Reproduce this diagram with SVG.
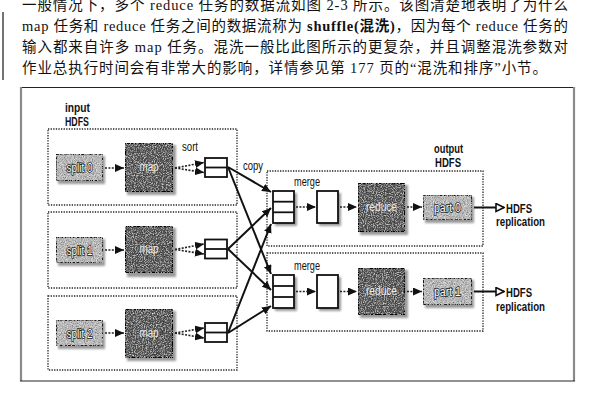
<svg xmlns="http://www.w3.org/2000/svg" width="600" height="400" viewBox="0 0 600 400">
<defs>
<style>
.para{font-family:"Liberation Serif","Noto Sans CJK SC",serif;font-size:14.5px;fill:#111}
.lbl{font-family:"Liberation Sans",sans-serif;font-size:13px;fill:#111}
.b{font-weight:bold}
.dotbox{fill:none;stroke:#222;stroke-width:1.3;stroke-dasharray:1.3 1.3}
.dark{fill:#545454;stroke:#111;stroke-width:2}
.light{fill:#bdbdbd;stroke:#222;stroke-width:2;stroke-dasharray:3 1.2}
.buf{fill:#fff;stroke:#111;stroke-width:1.8}
.shadow{fill:#9a9a9a;filter:url(#blur)}
.inl{font-family:"Liberation Sans",sans-serif;font-size:12.5px;fill:#fff;stroke:#222;stroke-width:1.6px;paint-order:stroke;text-anchor:middle}
.ind{font-family:"Liberation Sans",sans-serif;font-size:12.5px;fill:#e8e8e8;text-anchor:middle}
.dotted{fill:none;stroke:#222;stroke-width:1.6;stroke-dasharray:2 1.4;marker-end:url(#ah)}
.solid{fill:none;stroke:#111;stroke-width:2;marker-end:url(#ah)}
.open{fill:none;stroke:#111;stroke-width:2;marker-end:url(#oh)}
.grain{filter:url(#grain)}
</style>
<marker id="ah" markerUnits="userSpaceOnUse" markerWidth="9" markerHeight="8" viewBox="0 0 9 8" refX="9" refY="4" orient="auto">
<path d="M0,0 L9,4 L0,8 z" fill="#111"/>
</marker>
<marker id="oh" markerUnits="userSpaceOnUse" markerWidth="10" markerHeight="10" viewBox="0 0 10 10" refX="9" refY="5" orient="auto">
<path d="M1,1 L9,5 L1,9 z" fill="#fff" stroke="#111" stroke-width="1.6"/>
</marker>
<filter id="blur" x="-20%" y="-20%" width="140%" height="140%">
<feGaussianBlur stdDeviation="1.2"/>
</filter>
<filter id="grain" x="0" y="0" width="100%" height="100%">
<feTurbulence type="fractalNoise" baseFrequency="0.9" numOctaves="2" seed="3" result="t"/>
<feColorMatrix in="t" type="matrix" values="0 0 0 0 0  0 0 0 0 0  0 0 0 0 0  1.6 0 0 0 -0.65" result="dk"/>
<feComposite in="dk" in2="SourceGraphic" operator="in" result="dk2"/>
<feColorMatrix in="t" type="matrix" values="0 0 0 0 1  0 0 0 0 1  0 0 0 0 1  0 1.6 0 0 -0.75" result="lt"/>
<feComposite in="lt" in2="SourceGraphic" operator="in" result="lt2"/>
<feMerge><feMergeNode in="SourceGraphic"/><feMergeNode in="dk2"/><feMergeNode in="lt2"/></feMerge>
</filter>
</defs>
<rect width="600" height="400" fill="#fff"/>

<g id="paragraph">
<line x1="3" y1="12" x2="3" y2="80" stroke="#444" stroke-width="1.5"/>
<text class="para" x="22" y="10" textLength="546" lengthAdjust="spacing">一般情况下，多个 reduce 任务的数据流如图 2-3 所示。该图清楚地表明了为什么</text>
<text class="para" x="22" y="31" textLength="546" lengthAdjust="spacing">map 任务和 reduce 任务之间的数据流称为 <tspan font-weight="bold">shuffle(混洗)</tspan>，因为每个 reduce 任务的</text>
<text class="para" x="22" y="52" textLength="546" lengthAdjust="spacing">输入都来自许多 map 任务。混洗一般比此图所示的更复杂，并且调整混洗参数对</text>
<text class="para" x="22" y="72.5" textLength="525" lengthAdjust="spacing">作业总执行时间会有非常大的影响，详情参见第 177 页的“混洗和排序”小节。</text>
</g>

<g id="frame">
<line x1="20" y1="87.5" x2="574" y2="87.5" stroke="#222" stroke-width="1"/>
<line x1="21" y1="87" x2="21" y2="381" stroke="#8a8a8a" stroke-width="2.2"/>
<line x1="574" y1="87" x2="574" y2="381" stroke="#8a8a8a" stroke-width="2.2"/>
<line x1="20" y1="381" x2="575" y2="381" stroke="#222" stroke-width="1"/>
</g>

<g id="input-hdfs">
<text class="lbl b" x="65" y="112" textLength="25" lengthAdjust="spacingAndGlyphs">input</text>
<text class="lbl b" x="65" y="126" textLength="24" lengthAdjust="spacingAndGlyphs">HDFS</text>
</g>
<g id="map-task-0"><rect class="dotbox" x="48" y="129" width="189" height="76"/></g>
<g id="map-task-1"><rect class="dotbox" x="48" y="212" width="189" height="76"/></g>
<g id="map-task-2"><rect class="dotbox" x="48" y="296" width="189" height="74"/></g>

<g id="split0">
<rect class="shadow" x="58" y="156" width="47" height="28"/>
<rect class="light grain" x="56" y="154" width="47" height="27"/>
<text class="inl" x="79.5" y="172" textLength="26" lengthAdjust="spacingAndGlyphs">split 0</text>
</g>
<g id="split1">
<rect class="shadow" x="58" y="239" width="47" height="27"/>
<rect class="light grain" x="56" y="237" width="47" height="26"/>
<text class="inl" x="79.5" y="254.5" textLength="26" lengthAdjust="spacingAndGlyphs">split 1</text>
</g>
<g id="split2">
<rect class="shadow" x="58" y="322" width="47" height="27"/>
<rect class="light grain" x="56" y="320" width="47" height="26"/>
<text class="inl" x="79.5" y="337.5" textLength="26" lengthAdjust="spacingAndGlyphs">split 2</text>
</g>

<g id="map0">
<rect class="shadow" x="127" y="145" width="49" height="50"/>
<rect class="dark grain" x="125" y="143" width="48" height="49"/>
<text class="ind" x="149" y="171" textLength="19" lengthAdjust="spacingAndGlyphs">map</text>
</g>
<g id="map1">
<rect class="shadow" x="127" y="228" width="49" height="49"/>
<rect class="dark grain" x="125" y="226" width="48" height="47"/>
<text class="ind" x="149" y="253" textLength="19" lengthAdjust="spacingAndGlyphs">map</text>
</g>
<g id="map2">
<rect class="shadow" x="127" y="311" width="49" height="50"/>
<rect class="dark grain" x="125" y="309" width="48" height="49"/>
<text class="ind" x="149" y="337" textLength="19" lengthAdjust="spacingAndGlyphs">map</text>
</g>

<g id="sort-label"><text class="lbl" x="182" y="151" textLength="16" lengthAdjust="spacingAndGlyphs">sort</text></g>
<g id="sortbuf0">
<rect class="buf" x="205" y="158" width="22" height="19"/>
<line x1="205" y1="167.5" x2="227" y2="167.5" stroke="#111" stroke-width="1.8"/>
</g>
<g id="sortbuf1">
<rect class="buf" x="205" y="239.5" width="22" height="19"/>
<line x1="205" y1="249" x2="227" y2="249" stroke="#111" stroke-width="1.8"/>
</g>
<g id="sortbuf2">
<rect class="buf" x="205" y="323" width="22" height="19"/>
<line x1="205" y1="332.5" x2="227" y2="332.5" stroke="#111" stroke-width="1.8"/>
</g>

<g id="copy-label"><text class="lbl" x="243" y="170" textLength="20" lengthAdjust="spacingAndGlyphs">copy</text></g>

<g id="output-hdfs">
<text class="lbl b" x="434" y="153" textLength="29" lengthAdjust="spacingAndGlyphs">output</text>
<text class="lbl b" x="435" y="167" textLength="26" lengthAdjust="spacingAndGlyphs">HDFS</text>
</g>
<g id="reduce-task-0"><rect class="dotbox" x="267" y="171" width="216" height="75"/></g>
<g id="reduce-task-1"><rect class="dotbox" x="267" y="253" width="216" height="78"/></g>

<g id="mergebuf0">
<text class="lbl" x="294" y="186" textLength="26" lengthAdjust="spacingAndGlyphs">merge</text>
<rect class="shadow" x="275" y="193" width="22" height="33"/>
<rect class="buf" x="273" y="191" width="21" height="32"/>
<line x1="273" y1="201.7" x2="294" y2="201.7" stroke="#111" stroke-width="1.8"/>
<line x1="273" y1="212.3" x2="294" y2="212.3" stroke="#111" stroke-width="1.8"/>
</g>
<g id="mergebuf1">
<text class="lbl" x="294" y="270" textLength="26" lengthAdjust="spacingAndGlyphs">merge</text>
<rect class="shadow" x="275" y="277" width="22" height="34"/>
<rect class="buf" x="273" y="275" width="21" height="33"/>
<line x1="273" y1="286" x2="294" y2="286" stroke="#111" stroke-width="1.8"/>
<line x1="273" y1="297" x2="294" y2="297" stroke="#111" stroke-width="1.8"/>
</g>
<g id="merged0">
<rect class="shadow" x="319" y="193" width="22" height="33"/>
<rect class="buf" x="317" y="191" width="21" height="32"/>
</g>
<g id="merged1">
<rect class="shadow" x="319" y="277" width="22" height="34"/>
<rect class="buf" x="317" y="275" width="21" height="33"/>
</g>
<g id="reduce0">
<rect class="shadow" x="360" y="185" width="48" height="50"/>
<rect class="dark grain" x="358" y="183" width="47" height="49"/>
<text class="ind" x="381.5" y="211" textLength="31" lengthAdjust="spacingAndGlyphs">reduce</text>
</g>
<g id="reduce1">
<rect class="shadow" x="360" y="270" width="48" height="48"/>
<rect class="dark grain" x="358" y="268" width="47" height="47"/>
<text class="ind" x="381.5" y="295" textLength="31" lengthAdjust="spacingAndGlyphs">reduce</text>
</g>
<g id="part0">
<rect class="shadow" x="425" y="197" width="49" height="26"/>
<rect class="light grain" x="423" y="195" width="49" height="25"/>
<text class="inl" x="447.5" y="211.5" textLength="27" lengthAdjust="spacingAndGlyphs">part 0</text>
</g>
<g id="part1">
<rect class="shadow" x="425" y="280" width="49" height="28"/>
<rect class="light grain" x="423" y="278" width="49" height="27"/>
<text class="inl" x="447.5" y="295.5" textLength="27" lengthAdjust="spacingAndGlyphs">part 1</text>
</g>
<g id="hdfs-rep0">
<text class="lbl b" x="506" y="212.5" textLength="26" lengthAdjust="spacingAndGlyphs">HDFS</text>
<text class="lbl b" x="496" y="226" textLength="49" lengthAdjust="spacingAndGlyphs">replication</text>
</g>
<g id="hdfs-rep1">
<text class="lbl b" x="506" y="297" textLength="26" lengthAdjust="spacingAndGlyphs">HDFS</text>
<text class="lbl b" x="496" y="311" textLength="49" lengthAdjust="spacingAndGlyphs">replication</text>
</g>

<g id="connectors">
<line class="dotted" x1="105" y1="168" x2="124" y2="168"/>
<line class="dotted" x1="105" y1="250" x2="124" y2="250"/>
<line class="dotted" x1="105" y1="333" x2="124" y2="333"/>
<line class="dotted" x1="175" y1="168" x2="204" y2="162.5"/>
<line class="dotted" x1="175" y1="168" x2="204" y2="172.5"/>
<line class="dotted" x1="175" y1="249.5" x2="204" y2="244"/>
<line class="dotted" x1="175" y1="249.5" x2="204" y2="254"/>
<line class="dotted" x1="175" y1="333" x2="204" y2="328"/>
<line class="dotted" x1="175" y1="333" x2="204" y2="338"/>
<line class="solid" x1="228" y1="167" x2="271" y2="192"/>
<line class="solid" x1="228" y1="167" x2="271" y2="274"/>
<line class="solid" x1="228" y1="249" x2="271" y2="208"/>
<line class="solid" x1="228" y1="249" x2="271" y2="290"/>
<line class="solid" x1="228" y1="333" x2="271" y2="224"/>
<line class="solid" x1="228" y1="333" x2="271" y2="306"/>
<line class="dotted" x1="296" y1="207" x2="316" y2="207"/>
<line class="dotted" x1="340" y1="207" x2="357" y2="207"/>
<line class="dotted" x1="407" y1="207" x2="422" y2="207"/>
<line class="dotted" x1="296" y1="291.5" x2="316" y2="291.5"/>
<line class="dotted" x1="340" y1="291.5" x2="357" y2="291.5"/>
<line class="dotted" x1="407" y1="291.5" x2="422" y2="291.5"/>
<line class="open" x1="474" y1="207.5" x2="504" y2="207.5"/>
<line class="open" x1="474" y1="291.5" x2="504" y2="291.5"/>
</g>
</svg>
